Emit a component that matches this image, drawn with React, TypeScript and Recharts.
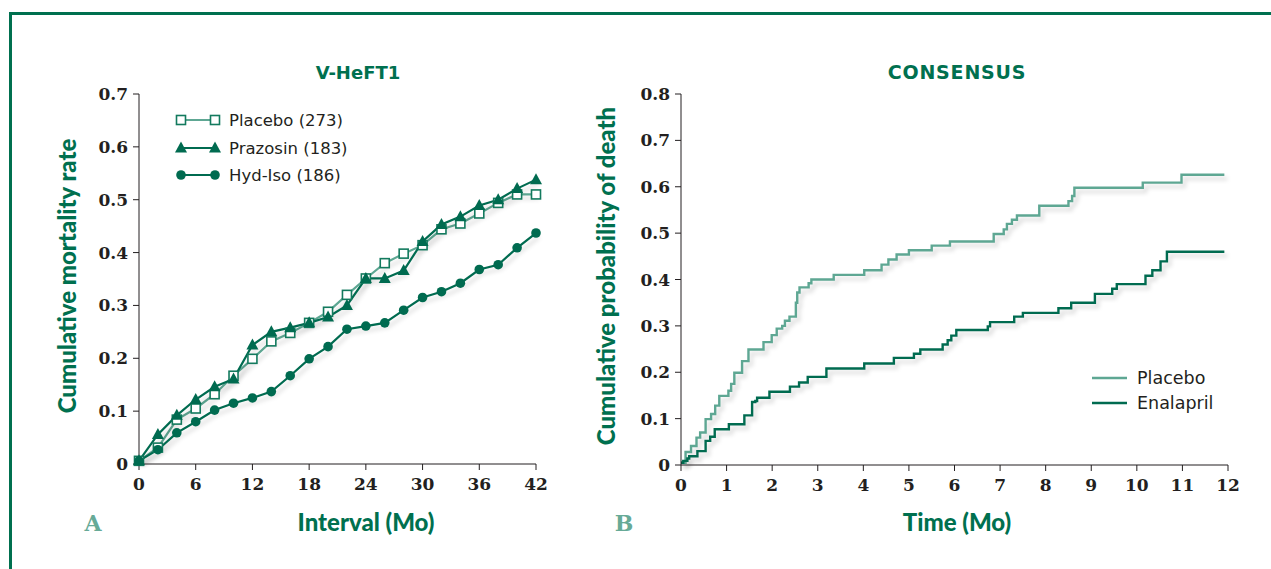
import React from 'react';
import { LineChart, Line, XAxis, YAxis } from 'recharts';

// V-HeFT1 panel (A)
const months = [0, 2, 4, 6, 8, 10, 12, 14, 16, 18, 20, 22, 24, 26, 28, 30, 32, 34, 36, 38, 40, 42];
const placeboRate = [0.006, 0.031, 0.084, 0.105, 0.132, 0.167, 0.199, 0.232, 0.248, 0.267, 0.288, 0.32, 0.351, 0.38, 0.398, 0.414, 0.444, 0.455, 0.474, 0.494, 0.51, 0.51];
const prazosinRate = [0.006, 0.056, 0.092, 0.122, 0.146, 0.161, 0.225, 0.25, 0.258, 0.267, 0.278, 0.3, 0.351, 0.351, 0.366, 0.421, 0.453, 0.468, 0.489, 0.5, 0.521, 0.538];
const hydIsoRate = [0.006, 0.027, 0.059, 0.08, 0.102, 0.115, 0.125, 0.137, 0.167, 0.199, 0.222, 0.255, 0.261, 0.267, 0.291, 0.315, 0.326, 0.342, 0.368, 0.377, 0.409, 0.437];
const monthTicks = [0, 6, 12, 18, 24, 30, 36, 42];
const rateTicks = [0, 0.1, 0.2, 0.3, 0.4, 0.5, 0.6, 0.7];

// CONSENSUS panel (B), Kaplan-Meier steps
const consPlaceboTime = [0, 0.1, 0.22, 0.34, 0.42, 0.54, 0.66, 0.75, 0.84, 1.04, 1.1, 1.17, 1.34, 1.48, 1.81, 1.99, 2.1, 2.22, 2.28, 2.38, 2.52, 2.55, 2.6, 2.8, 2.86, 3.35, 4.02, 4.4, 4.55, 4.73, 5.0, 5.5, 5.9, 6.86, 7.08, 7.15, 7.26, 7.37, 7.86, 8.5, 8.58, 8.63, 10.13, 10.98, 11.92];
const consPlaceboValue = [0.005, 0.028, 0.041, 0.059, 0.07, 0.099, 0.11, 0.128, 0.149, 0.16, 0.175, 0.199, 0.224, 0.249, 0.265, 0.28, 0.294, 0.3, 0.311, 0.32, 0.35, 0.372, 0.383, 0.392, 0.4, 0.41, 0.42, 0.432, 0.443, 0.454, 0.463, 0.473, 0.482, 0.498, 0.508, 0.52, 0.529, 0.538, 0.559, 0.569, 0.58, 0.598, 0.609, 0.626, 0.626];
const consEnalaprilTime = [0, 0.05, 0.14, 0.18, 0.36, 0.54, 0.64, 0.74, 1.05, 1.39, 1.56, 1.63, 1.67, 1.94, 2.39, 2.59, 2.78, 3.19, 4.02, 4.67, 5.11, 5.25, 5.74, 5.85, 5.93, 6.04, 6.73, 6.78, 7.31, 7.5, 8.28, 8.56, 9.08, 9.46, 9.56, 10.19, 10.34, 10.52, 10.66, 11.92];
const consEnalaprilValue = [0.005, 0.009, 0.014, 0.019, 0.03, 0.052, 0.061, 0.077, 0.088, 0.107, 0.136, 0.138, 0.145, 0.158, 0.169, 0.178, 0.19, 0.208, 0.219, 0.231, 0.24, 0.249, 0.26, 0.269, 0.279, 0.291, 0.299, 0.308, 0.32, 0.328, 0.338, 0.35, 0.369, 0.38, 0.39, 0.408, 0.42, 0.439, 0.46, 0.46];
const timeTicks = [0, 1, 2, 3, 4, 5, 6, 7, 8, 9, 10, 11, 12];
const probTicks = [0, 0.1, 0.2, 0.3, 0.4, 0.5, 0.6, 0.7, 0.8];

const DARK = '#006b50';
const LIGHT = '#5ea793';
const TITLE = '#00704f';
const LETTER = '#67aa97';

const veData = months.map((m, i) => ({
    month: m,
    placebo: placeboRate[i],
    prazosin: prazosinRate[i],
    hydIso: hydIsoRate[i],
}));
const consPlacebo = consPlaceboTime.map((t, i) => ({ t, v: consPlaceboValue[i] }));
const consEnalapril = consEnalaprilTime.map((t, i) => ({ t, v: consEnalaprilValue[i] }));

const tickStyle = { fill: '#231f20', fontSize: 17, fontWeight: 700, fontFamily: 'DejaVu Serif' };

const SquareDot = (props: any) => (
    <rect key={`sq-${props.index}`} x={props.cx - 4.5} y={props.cy - 4.5} width={9} height={9}
        fill="#fff" stroke="#137a5e" strokeWidth={1.6} />
);
const TriDot = (props: any) => (
    <path key={`tr-${props.index}`} fill={DARK}
        d={`M${props.cx},${props.cy - 6.5} L${props.cx - 6},${props.cy + 4.5} L${props.cx + 6},${props.cy + 4.5} Z`} />
);
const CircleDot = (props: any) => (
    <circle key={`ci-${props.index}`} cx={props.cx} cy={props.cy} r={4.8} fill={DARK} />
);

const abs = (style: React.CSSProperties): React.CSSProperties => ({ position: 'absolute', whiteSpace: 'nowrap', ...style });
const axisTitle: React.CSSProperties = { color: TITLE, fontFamily: 'Lato', fontWeight: 900, fontSize: 24 };
const legendText: React.CSSProperties = { color: '#231f20', fontFamily: 'DejaVu Sans', transform: 'translateY(-50%)' };

const App: React.FC = () => {
    return (
        <div style={{ position: 'absolute', left: 0, top: 0, width: 1271, height: 569, overflow: 'hidden', background: '#fff' }}>
            <style>{`.shadowed .recharts-line-curve { filter: drop-shadow(3px 4px 2px rgba(0,0,0,0.16)); }`}</style>
            {/* frame */}
            <div style={abs({ left: 9, top: 12, width: 1400, height: 700, borderTop: `3px solid ${TITLE}`, borderLeft: `3px solid ${TITLE}` })} />

            {/* panel A */}
            <div className="shadowed" style={abs({ left: 0, top: 0 })}>
                <LineChart width={600} height={569} data={veData} margin={{ top: 94, right: 64, bottom: 45, left: 79 }}>
                    <XAxis dataKey="month" type="number" domain={[0, 42]} ticks={monthTicks} stroke="#231f20"
                        tickSize={6} tickMargin={8} tick={tickStyle} height={60} />
                    <YAxis type="number" domain={[0, 0.7]} ticks={rateTicks} stroke="#231f20"
                        tickSize={6} tickMargin={5} tick={tickStyle} width={60} />
                    <Line dataKey="placebo" stroke={LIGHT} strokeWidth={2.2} dot={SquareDot} isAnimationActive={false} />
                    <Line dataKey="prazosin" stroke={DARK} strokeWidth={2.2} dot={TriDot} isAnimationActive={false} />
                    <Line dataKey="hydIso" stroke={DARK} strokeWidth={2.2} dot={CircleDot} isAnimationActive={false} />
                </LineChart>
            </div>

            {/* panel B */}
            <div className="shadowed" style={abs({ left: 600, top: 0 })}>
                <LineChart width={671} height={569} margin={{ top: 94, right: 43, bottom: 44, left: 21 }}>
                    <XAxis dataKey="t" type="number" domain={[0, 12]} ticks={timeTicks} stroke="#231f20"
                        tickSize={6} tickMargin={8} tick={tickStyle} height={60} allowDuplicatedCategory={false} />
                    <YAxis type="number" domain={[0, 0.8]} ticks={probTicks} stroke="#231f20"
                        tickSize={6} tickMargin={5} tick={tickStyle} width={60} />
                    <Line data={consPlacebo} dataKey="v" type="stepAfter" stroke={LIGHT} strokeWidth={2.4} dot={false} isAnimationActive={false} />
                    <Line data={consEnalapril} dataKey="v" type="stepAfter" stroke={DARK} strokeWidth={2.4} dot={false} isAnimationActive={false} />
                </LineChart>
            </div>

            {/* titles */}
            <div style={abs({ left: 358, top: 72, transform: 'translate(-50%,-50%)', color: TITLE, fontFamily: 'DejaVu Sans', fontWeight: 700, fontSize: 18 })}>V-HeFT1</div>
            <div style={abs({ left: 957, top: 72, transform: 'translate(-50%,-50%)', color: TITLE, fontFamily: 'DejaVu Sans', fontWeight: 700, fontSize: 19, letterSpacing: 0.8 })}>CONSENSUS</div>

            {/* axis titles */}
            <div style={abs({ left: 66, top: 276, transform: 'translate(-50%,-50%) rotate(-90deg)', ...axisTitle })}>Cumulative mortality rate</div>
            <div style={abs({ left: 605, top: 276, transform: 'translate(-50%,-50%) rotate(-90deg)', ...axisTitle })}>Cumulative probability of death</div>
            <div style={abs({ left: 366, top: 521, transform: 'translate(-50%,-50%)', ...axisTitle })}>Interval (Mo)</div>
            <div style={abs({ left: 957, top: 521, transform: 'translate(-50%,-50%)', ...axisTitle })}>Time (Mo)</div>

            {/* panel letters */}
            <div style={abs({ left: 93, top: 523, transform: 'translate(-50%,-50%)', color: LETTER, fontFamily: 'DejaVu Serif', fontWeight: 700, fontSize: 22 })}>A</div>
            <div style={abs({ left: 624, top: 523, transform: 'translate(-50%,-50%)', color: LETTER, fontFamily: 'DejaVu Serif', fontWeight: 700, fontSize: 22 })}>B</div>

            {/* legend A */}
            <svg style={abs({ left: 170, top: 105 })} width={55} height={85}>
                <g className="shadowed">
                    <line x1={11} y1={15} x2={45} y2={15} stroke={LIGHT} strokeWidth={2.2} />
                    <rect x={6.5} y={10.5} width={9} height={9} fill="#fff" stroke="#137a5e" strokeWidth={1.6} />
                    <rect x={40.5} y={10.5} width={9} height={9} fill="#fff" stroke="#137a5e" strokeWidth={1.6} />
                    <line x1={11} y1={43} x2={45} y2={43} stroke={DARK} strokeWidth={2.2} />
                    <path d="M11,36.5 L5,47.5 L17,47.5 Z" fill={DARK} />
                    <path d="M45,36.5 L39,47.5 L51,47.5 Z" fill={DARK} />
                    <line x1={11} y1={70} x2={45} y2={70} stroke={DARK} strokeWidth={2.2} />
                    <circle cx={11} cy={70} r={4.8} fill={DARK} />
                    <circle cx={45} cy={70} r={4.8} fill={DARK} />
                </g>
            </svg>
            <div style={abs({ left: 229, top: 120, fontSize: 16.5, ...legendText })}>Placebo (273)</div>
            <div style={abs({ left: 229, top: 148, fontSize: 16.5, ...legendText })}>Prazosin (183)</div>
            <div style={abs({ left: 229, top: 175, fontSize: 16.5, ...legendText })}>Hyd-Iso (186)</div>

            {/* legend B */}
            <svg style={abs({ left: 1088, top: 368 })} width={45} height={45}>
                <line x1={4} y1={10} x2={39} y2={10} stroke={LIGHT} strokeWidth={2.6} />
                <line x1={4} y1={35} x2={39} y2={35} stroke={DARK} strokeWidth={2.6} />
            </svg>
            <div style={abs({ left: 1137, top: 378, fontSize: 17.5, ...legendText })}>Placebo</div>
            <div style={abs({ left: 1137, top: 403, fontSize: 17.5, ...legendText })}>Enalapril</div>
        </div>
    );
};

export default App;
